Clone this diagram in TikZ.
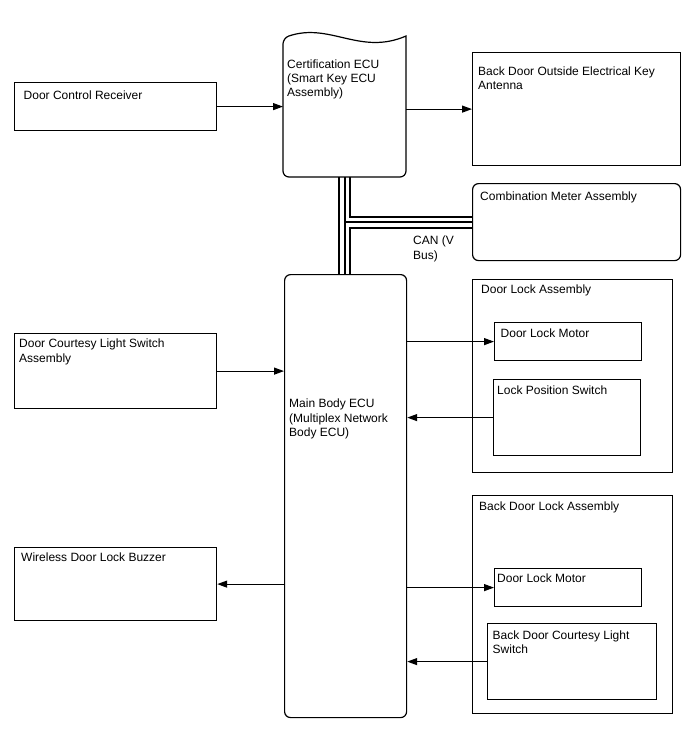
\documentclass[tikz,border=0pt]{standalone}
\usepackage{fontspec}
\setmainfont{Liberation Sans}
\usetikzlibrary{arrows.meta,backgrounds}
\tikzset{
  box/.style={draw, line width=1.2pt, inner sep=0pt, anchor=north west},
  rbox/.style={box, rounded corners=6pt},
  txt/.style={anchor=north west, inner sep=0pt, align=left, font=\fontsize{12}{14.3}\selectfont},
  arr/.style={line width=1.2pt, -{Triangle[length=10pt,width=7pt]}},
}
\begin{document}
\begin{tikzpicture}[x=1pt,y=-1pt]
\useasboundingbox (0,0) rectangle (688,755);
% boxes
\node[box, minimum width=202, minimum height=48] (dcr) at (14,82) {};
\node[inner sep=0pt, anchor=north west, minimum width=123, minimum height=140] (cert) at (283,37) {};
\draw[line width=1.2pt] (283,38) .. controls (330,22) and (360,56) .. (406,36)
  [rounded corners=6pt] -- (406,177) -- (283,177) -- cycle;
\node[box, minimum width=208, minimum height=113] (ant) at (472,52) {};
\node[rbox, minimum width=208, minimum height=77] (comb) at (472,183) {};
\node[rbox, minimum width=122, minimum height=443] (main) at (284,274) {};
\node[box, minimum width=200, minimum height=193] (dla) at (472,279) {};
\node[box, minimum width=147, minimum height=38] (dlm1) at (494,322) {};
\node[box, minimum width=147, minimum height=76] (lps) at (493,379) {};
\node[box, minimum width=200, minimum height=218] (bdla) at (472,495) {};
\node[box, minimum width=147, minimum height=38] (dlm2) at (494,568) {};
\node[box, minimum width=169, minimum height=76] (bdcl) at (487,623) {};
\node[box, minimum width=202, minimum height=75] (dcl) at (14,333) {};
\node[box, minimum width=202, minimum height=73] (wdb) at (14,547) {};
% texts
\node[txt] (tdcr) at (23.5,90.5) {Door Control Receiver};
\node[txt] (tcert) at (287,59.5) {Certification ECU\\(Smart Key ECU\\Assembly)};
\node[txt] (tant) at (478,66.5) {Back Door Outside Electrical Key\\Antenna};
\node[txt] (tcomb) at (480,191.5) {Combination Meter Assembly};
\node[txt] (tdla) at (481,285) {Door Lock Assembly};
\node[txt] (tdlm1) at (500.5,328.5) {Door Lock Motor};
\node[txt] (tlps) at (497,386) {Lock Position Switch};
\node[txt] (tbdla) at (479,501.5) {Back Door Lock Assembly};
\node[txt] (tdlm2) at (497,574) {Door Lock Motor};
\node[txt] (tbdcl) at (492.5,630.5) {Back Door Courtesy Light\\Switch};
\node[txt] (tdcl) at (19,339) {Door Courtesy Light Switch\\Assembly};
\node[txt] (tmain) at (289,399) {Main Body ECU\\(Multiplex Network\\Body ECU)};
\node[txt] (twdb) at (21,553) {Wireless Door Lock Buzzer};
\node[txt] (tcan) at (413,236) {CAN (V\\Bus)};
% CAN bus
\begin{pgfonlayer}{background}
\draw[line width=13pt] (cert.south) -- (cert.south |- main.north)
  (cert.south |- comb.west) -- (comb.west);
\draw[white, line width=9pt] (cert.south) -- (cert.south |- main.north)
  (cert.south |- comb.west) -- (comb.west);
\draw[line width=2pt] (cert.south) -- (cert.south |- main.north)
  (cert.south |- comb.west) -- (comb.west);
\end{pgfonlayer}
% arrows
\draw[arr] (dcr.east) -- (dcr.east -| cert.west);
\draw[arr] (cert.east |- ant.west) -- (ant.west);
\draw[arr] (dcl.east) -- (dcl.east -| main.west);
\draw[arr] (wdb.east -| main.west) -- (wdb.east);
\draw[arr] (dlm1.west -| main.east) -- (dlm1.west);
\draw[arr] (lps.west) -- (lps.west -| main.east);
\draw[arr] (dlm2.west -| main.east) -- (dlm2.west);
\draw[arr] (bdcl.west) -- (bdcl.west -| main.east);
\end{tikzpicture}
\end{document}
